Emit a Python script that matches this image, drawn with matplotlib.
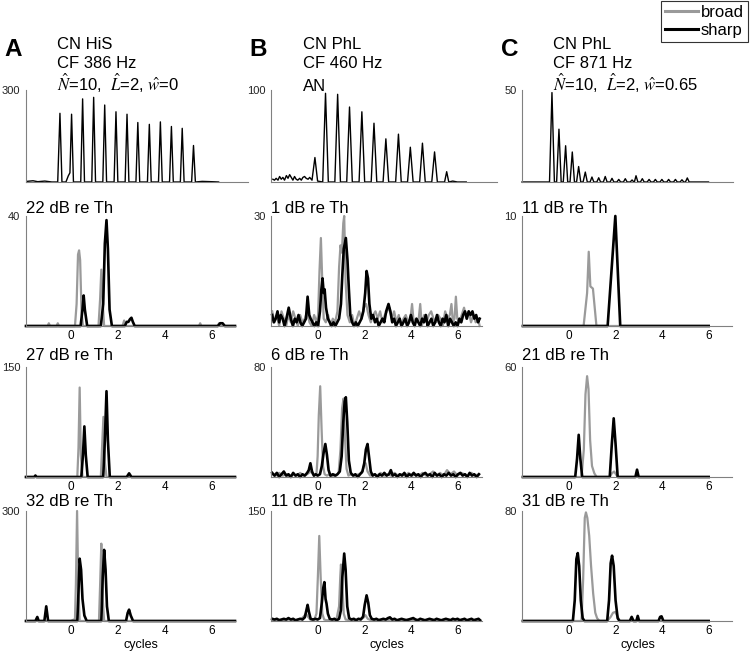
import numpy as np
import matplotlib
matplotlib.use('Agg')
import matplotlib.pyplot as plt
from matplotlib.lines import Line2D

plt.rcParams['font.family'] = ['Liberation Sans', 'DejaVu Sans']
plt.rcParams['mathtext.fontset'] = 'stix'

# ---------------- data (x in cycles, y = count) ----------------
# Top row: AN / unit responses (single black trace)
A1_sharp = [(-1.87, 2), (-1.6, 4), (-1.4, 1), (-1.1, 3), (-0.8, 0), (-0.55, 0), (-0.455, 224), (-0.37, 0),
            (-0.2, 0), (-0.1, 20), (-0.03, 30), (0.04, 221), (0.12, 0), (0.43, 0), (0.51, 271), (0.59, 0),
            (0.90, 0), (0.98, 276), (1.06, 0), (1.37, 0), (1.45, 251), (1.53, 0), (1.85, 0), (1.93, 229),
            (2.01, 0), (2.32, 0), (2.40, 221), (2.48, 0), (2.78, 0), (2.86, 194), (2.94, 0), (3.27, 0),
            (3.35, 188), (3.43, 0), (3.74, 0), (3.82, 196), (3.90, 0), (4.21, 0), (4.29, 181), (4.37, 0),
            (4.67, 0), (4.75, 175), (4.83, 0), (5.15, 0), (5.23, 119), (5.31, 0), (5.6, 2), (6.0, 1), (6.3, 0)]

B1_sharp = [(-1.92, 3), (-1.85, 2), (-1.78, 4), (-1.70, 2), (-1.63, 6), (-1.56, 3), (-1.49, 5), (-1.42, 2),
            (-1.34, 7), (-1.27, 4), (-1.20, 8), (-1.13, 5), (-1.06, 2), (-0.99, 6), (-0.92, 3), (-0.85, 2),
            (-0.77, 4), (-0.70, 2), (-0.63, 5), (-0.56, 6), (-0.49, 4), (-0.41, 3), (-0.34, 5), (-0.24, 2),
            (-0.115, 26.6), (0.0, 1), (0.22, 0), (0.34, 96.4), (0.46, 0), (0.74, 0), (0.86, 95.3), (0.98, 0),
            (1.25, 0), (1.37, 81.5), (1.49, 0), (1.78, 0), (1.90, 76.3), (2.02, 0), (2.30, 0), (2.42, 63.9),
            (2.54, 0), (2.81, 0), (2.93, 46.9), (3.05, 0), (3.35, 0), (3.47, 52.0), (3.59, 0), (3.86, 0),
            (3.98, 37.8), (4.10, 0), (4.38, 0), (4.50, 42.2), (4.62, 0), (4.90, 0), (5.02, 32.7), (5.14, 0),
            (5.45, 0), (5.54, 11.2), (5.63, 0), (5.8, 1), (6.0, 0), (6.38, 0)]

C1_sharp = [(-2.0, 0), (-0.82, 0), (-0.715, 48.6), (-0.61, 0), (-0.515, 0), (-0.415, 28.7), (-0.32, 0),
            (-0.23, 0), (-0.129, 19.7), (-0.04, 0), (0.06, 0), (0.157, 16.3), (0.25, 0), (0.34, 0),
            (0.429, 8.4), (0.52, 0), (0.62, 0), (0.715, 5.4), (0.80, 0), (0.92, 0), (1.0, 2.7), (1.08, 0),
            (1.21, 0), (1.29, 2.3), (1.37, 0), (1.49, 0), (1.57, 3.0), (1.65, 0), (1.78, 0), (1.86, 2.0),
            (1.94, 0), (2.07, 0), (2.15, 1.4), (2.23, 0), (2.35, 0), (2.43, 1.8), (2.51, 0), (2.64, 0),
            (2.72, 1.1), (2.80, 0), (2.82, 0), (2.89, 3.4), (2.97, 0), (3.08, 0), (3.16, 1.8), (3.24, 0),
            (3.37, 0), (3.45, 1.4), (3.53, 0), (3.64, 0), (3.72, 1.4), (3.80, 0), (3.92, 0), (4.0, 1.4),
            (4.08, 0), (4.21, 0), (4.29, 1.4), (4.37, 0), (4.50, 0), (4.58, 1.4), (4.66, 0), (4.78, 0),
            (4.86, 1.2), (4.94, 0), (5.01, 0), (5.09, 2.2), (5.17, 0), (6.0, 0)]

# Column A, model responses
A2_broad = [(-1.9, 0), (-0.98, 0), (-0.93, 1), (-0.88, 0), (-0.6, 0), (-0.55, 1), (-0.5, 0), (0.18, 0),
            (0.25, 8), (0.31, 26), (0.355, 27.5), (0.40, 24), (0.46, 5), (0.52, 0), (1.18, 0), (1.25, 10),
            (1.30, 20.5), (1.36, 8), (1.42, 0), (2.20, 0), (2.27, 2), (2.33, 0), (5.45, 0), (5.5, 1),
            (5.55, 0), (6.25, 0), (6.3, 1), (6.35, 0), (6.98, 0)]
A2_sharp = [(-1.9, 0), (0.42, 0), (0.50, 6), (0.55, 11.1), (0.60, 6), (0.70, 0), (1.28, 0), (1.38, 8),
            (1.45, 30), (1.52, 38.5), (1.58, 28), (1.65, 6), (1.75, 0), (2.30, 0), (2.38, 1.5), (2.45, 1.5),
            (2.52, 2.5), (2.58, 3), (2.64, 1.5), (2.72, 0), (6.25, 0), (6.35, 1), (6.45, 1), (6.55, 0),
            (6.98, 0)]

A3_broad = [(-1.9, 0), (0.28, 0), (0.33, 40), (0.38, 122), (0.43, 30), (0.50, 0), (1.28, 0), (1.33, 40),
            (1.39, 82), (1.45, 20), (1.52, 0), (6.98, 0)]
A3_sharp = [(-1.9, 0), (-1.55, 0), (-1.5, 2), (-1.45, 0), (0.45, 0), (0.52, 30), (0.58, 69), (0.64, 30),
            (0.72, 0), (1.38, 0), (1.45, 50), (1.52, 117), (1.58, 50), (1.66, 0), (2.38, 0), (2.48, 5),
            (2.58, 0), (6.98, 0)]

A4_broad = [(-1.9, 0), (0.0, 0), (0.10, 3), (0.18, 5), (0.22, 100), (0.27, 300), (0.32, 100), (0.38, 0),
            (1.20, 0), (1.25, 100), (1.30, 211), (1.36, 60), (1.42, 0), (6.98, 0)]
A4_sharp = [(-1.9, 0), (-1.50, 0), (-1.42, 11), (-1.36, 0), (-1.12, 0), (-1.04, 40), (-0.96, 0), (0.28, 0),
            (0.33, 80), (0.38, 170), (0.44, 140), (0.50, 60), (0.58, 15), (0.68, 0), (1.30, 0), (1.36, 120),
            (1.42, 194), (1.48, 140), (1.54, 40), (1.62, 0), (2.35, 0), (2.42, 22), (2.48, 31), (2.55, 15),
            (2.65, 0), (6.98, 0)]

# Column B, model responses (noisy)
B2_broad = [(-1.95, 4), (-1.85, 1), (-1.75, 3), (-1.65, 0), (-1.55, 4), (-1.45, 2), (-1.35, 0), (-1.25, 3),
            (-1.15, 1), (-1.05, 4), (-0.95, 2), (-0.85, 0), (-0.75, 3), (-0.65, 1), (-0.55, 2), (-0.45, 4),
            (-0.35, 1), (-0.25, 0), (-0.15, 3), (-0.05, 1), (0.02, 3), (0.08, 15), (0.14, 24), (0.20, 12),
            (0.26, 2), (0.35, 1), (0.45, 3), (0.55, 0), (0.65, 2), (0.75, 1), (0.85, 4), (0.92, 16),
            (0.98, 22), (1.04, 20), (1.10, 28), (1.14, 30), (1.20, 12), (1.28, 3), (1.38, 1), (1.48, 3),
            (1.58, 0), (1.68, 2), (1.78, 4), (1.88, 2), (1.98, 5), (2.08, 6), (2.18, 3), (2.28, 1),
            (2.38, 3), (2.48, 4), (2.58, 2), (2.68, 4), (2.78, 1), (2.88, 3), (2.98, 4), (3.08, 5),
            (3.18, 2), (3.28, 4), (3.38, 1), (3.48, 3), (3.58, 0), (3.68, 2), (3.78, 3), (3.88, 1),
            (3.98, 2), (4.05, 6), (4.12, 1), (4.22, 2), (4.32, 1), (4.40, 6), (4.47, 0), (4.57, 3),
            (4.67, 1), (4.77, 3), (4.87, 4), (4.97, 2), (5.07, 1), (5.17, 3), (5.27, 2), (5.37, 0),
            (5.47, 4), (5.57, 2), (5.67, 3), (5.74, 6), (5.80, 1), (5.87, 2), (5.93, 8), (5.99, 2),
            (6.08, 1), (6.18, 3), (6.28, 5), (6.38, 2), (6.48, 4), (6.58, 1), (6.68, 3), (6.78, 1),
            (6.88, 2), (6.95, 0)]
B2_sharp = [(-1.95, 3), (-1.88, 1), (-1.80, 2), (-1.72, 4), (-1.65, 1), (-1.58, 3), (-1.50, 2), (-1.42, 0),
            (-1.34, 2), (-1.24, 5), (-1.15, 2), (-1.06, 0), (-0.98, 2), (-0.90, 1), (-0.82, 3), (-0.74, 1),
            (-0.66, 0), (-0.58, 1), (-0.50, 2), (-0.43, 8), (-0.36, 3), (-0.30, 2), (-0.22, 1), (-0.14, 0),
            (-0.06, 1), (0.02, 0), (0.10, 4), (0.16, 10), (0.21, 13), (0.26, 9), (0.30, 10), (0.36, 5),
            (0.44, 2), (0.52, 1), (0.60, 0), (0.68, 1), (0.76, 0), (0.84, 1), (0.92, 2), (1.00, 6),
            (1.06, 14), (1.12, 21), (1.21, 24), (1.28, 18), (1.34, 10), (1.40, 3), (1.48, 1), (1.56, 0),
            (1.64, 1), (1.72, 0), (1.80, 1), (1.88, 2), (1.96, 4), (2.04, 9), (2.10, 15), (2.16, 13),
            (2.22, 6), (2.30, 2), (2.38, 3), (2.46, 1), (2.54, 2), (2.62, 0), (2.70, 1), (2.78, 2),
            (2.86, 1), (2.94, 4), (3.04, 6), (3.12, 4), (3.20, 1), (3.28, 2), (3.36, 0), (3.44, 1),
            (3.52, 2), (3.60, 0), (3.68, 1), (3.76, 2), (3.84, 0), (3.92, 1), (4.00, 3), (4.08, 1),
            (4.16, 0), (4.24, 2), (4.32, 1), (4.40, 0), (4.48, 2), (4.56, 1), (4.64, 3), (4.72, 0),
            (4.80, 1), (4.88, 2), (4.96, 0), (5.04, 1), (5.12, 3), (5.20, 1), (5.28, 0), (5.36, 2),
            (5.44, 1), (5.52, 3), (5.60, 0), (5.68, 2), (5.76, 1), (5.84, 0), (5.92, 1), (6.00, 0),
            (6.08, 2), (6.16, 1), (6.24, 3), (6.32, 4), (6.40, 2), (6.48, 4), (6.56, 3), (6.64, 4),
            (6.72, 2), (6.80, 3), (6.88, 1), (6.95, 2)]

B3_broad = [(-1.95, 2), (-1.8, 1), (-1.65, 3), (-1.5, 1), (-1.35, 2), (-1.2, 0), (-1.05, 2), (-0.9, 1),
            (-0.75, 3), (-0.6, 1), (-0.45, 2), (-0.3, 4), (-0.15, 1), (-0.05, 2), (0.0, 15), (0.05, 45),
            (0.11, 66), (0.17, 35), (0.23, 8), (0.30, 2), (0.4, 1), (0.5, 2), (0.6, 0), (0.7, 2), (0.8, 1),
            (0.9, 3), (0.98, 20), (1.05, 50), (1.11, 57), (1.17, 30), (1.24, 6), (1.32, 1), (1.45, 2),
            (1.6, 1), (1.75, 2), (1.9, 3), (2.0, 9), (2.06, 10), (2.14, 4), (2.25, 1), (2.4, 2), (2.55, 1),
            (2.7, 3), (2.85, 1), (3.0, 2), (3.15, 1), (3.3, 3), (3.45, 1), (3.6, 2), (3.75, 1), (3.9, 3),
            (4.05, 1), (4.2, 2), (4.35, 1), (4.5, 3), (4.65, 1), (4.8, 2), (4.95, 4), (5.1, 1), (5.25, 3),
            (5.4, 1), (5.55, 5), (5.7, 2), (5.85, 4), (6.0, 1), (6.15, 3), (6.3, 2), (6.45, 1), (6.6, 3),
            (6.75, 1), (6.9, 2)]
B3_sharp = [(-1.95, 3), (-1.85, 1), (-1.75, 3), (-1.65, 0), (-1.55, 2), (-1.45, 4), (-1.35, 1), (-1.25, 2),
            (-1.15, 0), (-1.05, 3), (-0.95, 1), (-0.85, 2), (-0.75, 0), (-0.65, 2), (-0.55, 1), (-0.45, 3),
            (-0.38, 5), (-0.31, 10), (-0.24, 4), (-0.16, 1), (-0.08, 2), (0.0, 1), (0.1, 2), (0.18, 8),
            (0.26, 18), (0.33, 24), (0.40, 16), (0.47, 5), (0.55, 1), (0.65, 2), (0.75, 1), (0.85, 2),
            (0.95, 4), (1.03, 15), (1.10, 40), (1.16, 55), (1.21, 58), (1.27, 40), (1.34, 12), (1.42, 3),
            (1.52, 1), (1.62, 2), (1.72, 0), (1.82, 2), (1.92, 4), (2.0, 10), (2.07, 20), (2.14, 24),
            (2.21, 14), (2.28, 4), (2.36, 1), (2.46, 2), (2.56, 0), (2.66, 2), (2.76, 1), (2.86, 3),
            (2.96, 1), (3.06, 2), (3.14, 5), (3.22, 1), (3.32, 2), (3.42, 0), (3.52, 2), (3.62, 1),
            (3.72, 3), (3.82, 0), (3.92, 2), (4.02, 1), (4.12, 3), (4.22, 1), (4.32, 2), (4.42, 0),
            (4.52, 2), (4.62, 3), (4.72, 1), (4.82, 2), (4.92, 0), (5.02, 3), (5.12, 1), (5.22, 2),
            (5.32, 0), (5.42, 2), (5.52, 1), (5.62, 3), (5.72, 1), (5.82, 2), (5.92, 0), (6.02, 2),
            (6.12, 3), (6.22, 1), (6.32, 2), (6.42, 0), (6.52, 3), (6.62, 1), (6.72, 2), (6.82, 0),
            (6.92, 2)]

B4_broad = [(-1.95, 1), (-1.7, 2), (-1.45, 1), (-1.2, 2), (-0.95, 1), (-0.7, 3), (-0.6, 6), (-0.5, 10),
            (-0.42, 6), (-0.32, 2), (-0.15, 1), (-0.05, 10), (0.01, 60), (0.07, 116), (0.13, 60), (0.2, 10),
            (0.28, 2), (0.4, 1), (0.6, 2), (0.8, 1), (0.92, 20), (0.97, 60), (1.0, 77), (1.06, 50),
            (1.12, 10), (1.2, 2), (1.4, 1), (1.7, 2), (1.95, 4), (2.05, 8), (2.15, 3), (2.3, 1), (2.6, 2),
            (2.9, 1), (3.2, 2), (3.5, 1), (3.8, 2), (4.1, 1), (4.4, 2), (4.7, 1), (5.0, 2), (5.3, 1),
            (5.6, 2), (5.9, 1), (6.2, 2), (6.5, 1), (6.8, 2), (6.95, 1)]
B4_sharp = [(-1.95, 3), (-1.85, 2), (-1.75, 3), (-1.65, 1), (-1.55, 2), (-1.45, 3), (-1.35, 2), (-1.25, 4),
            (-1.15, 2), (-1.05, 3), (-0.95, 1), (-0.85, 2), (-0.75, 3), (-0.65, 2), (-0.55, 5), (-0.48, 15),
            (-0.43, 22), (-0.37, 12), (-0.30, 3), (-0.2, 2), (-0.1, 3), (0.0, 2), (0.1, 4), (0.18, 25),
            (0.24, 45), (0.29, 53), (0.34, 30), (0.38, 24), (0.44, 10), (0.52, 3), (0.62, 2), (0.72, 3),
            (0.82, 1), (0.92, 3), (1.0, 15), (1.06, 60), (1.14, 92), (1.20, 70), (1.27, 20), (1.35, 4),
            (1.45, 2), (1.55, 3), (1.65, 1), (1.75, 3), (1.85, 2), (1.95, 6), (2.02, 22), (2.10, 35),
            (2.17, 25), (2.24, 8), (2.32, 3), (2.42, 2), (2.52, 3), (2.62, 1), (2.72, 2), (2.82, 3),
            (2.92, 2), (3.02, 4), (3.1, 5), (3.2, 2), (3.3, 3), (3.4, 1), (3.5, 2), (3.6, 3), (3.7, 2),
            (3.8, 1), (3.9, 2), (4.0, 3), (4.1, 4), (4.2, 2), (4.3, 1), (4.4, 3), (4.5, 2), (4.6, 1),
            (4.7, 2), (4.8, 3), (4.9, 2), (5.0, 1), (5.1, 3), (5.2, 2), (5.3, 1), (5.4, 2), (5.5, 3),
            (5.6, 2), (5.7, 1), (5.8, 3), (5.9, 2), (6.0, 3), (6.1, 1), (6.2, 2), (6.3, 3), (6.4, 1),
            (6.5, 2), (6.6, 3), (6.7, 1), (6.8, 2), (6.9, 3), (6.97, 1)]

# Column C, model responses
C2_broad = [(-1.96, 0), (0.64, 0), (0.79, 3), (0.86, 6.75), (0.93, 3.6), (1.04, 3.4), (1.19, 0), (6.0, 0)]
C2_sharp = [(-1.96, 0), (1.67, 0), (2.0, 10), (2.21, 0), (6.0, 0)]

C3_broad = [(-1.96, 0), (0.55, 0), (0.65, 15), (0.72, 45), (0.79, 55), (0.85, 48), (0.92, 20), (1.0, 6),
            (1.1, 2), (1.2, 0), (1.75, 0), (1.85, 2), (1.95, 3), (2.05, 1), (2.15, 0), (6.0, 0)]
C3_sharp = [(-1.96, 0), (0.28, 0), (0.36, 10), (0.43, 23), (0.50, 10), (0.58, 0), (1.76, 0), (1.85, 18),
            (1.93, 32), (2.01, 18), (2.10, 0), (2.86, 0), (2.93, 4), (3.0, 0), (6.0, 0)]

C4_broad = [(-1.96, 0), (0.55, 0), (0.62, 30), (0.69, 75), (0.74, 79), (0.80, 75), (0.88, 62), (0.96, 40),
            (1.05, 20), (1.14, 6), (1.22, 2), (1.32, 0), (1.65, 0), (1.8, 3), (1.9, 6), (2.0, 6.6),
            (2.1, 3), (2.2, 0), (6.0, 0)]
C4_sharp = [(-1.96, 0), (0.18, 0), (0.26, 15), (0.33, 45), (0.39, 49.4), (0.45, 40), (0.52, 15), (0.60, 2),
            (0.68, 0), (1.65, 0), (1.73, 15), (1.80, 42), (1.86, 47.5), (1.93, 40), (2.01, 15), (2.10, 2),
            (2.18, 0), (2.62, 0), (2.70, 3), (2.78, 0), (2.90, 0), (2.96, 3.7), (3.02, 0), (3.85, 0),
            (3.92, 3), (3.98, 3.4), (4.06, 0), (6.0, 0)]

# labels / limits
panel_letters = ['A', 'B', 'C']
headers = [
    ['CN HiS', 'CF 386 Hz', r'$\hat{N}$=10,  $\hat{L}$=2, $\hat{w}$=0'],
    ['CN PhL', 'CF 460 Hz', 'AN'],
    ['CN PhL', 'CF 871 Hz', r'$\hat{N}$=10,  $\hat{L}$=2, $\hat{w}$=0.65'],
]
level_titles = [
    ['22 dB re Th', '27 dB re Th', '32 dB re Th'],
    ['1 dB re Th', '6 dB re Th', '11 dB re Th'],
    ['11 dB re Th', '21 dB re Th', '31 dB re Th'],
]
top_ymax = [300, 100, 50]
level_ymax = [[40, 150, 300], [30, 80, 150], [10, 60, 80]]
x_ticks = [0, 2, 4, 6]

top_data = [A1_sharp, B1_sharp, C1_sharp]
broad_data = [[A2_broad, A3_broad, A4_broad], [B2_broad, B3_broad, B4_broad], [C2_broad, C3_broad, C4_broad]]
sharp_data = [[A2_sharp, A3_sharp, A4_sharp], [B2_sharp, B3_sharp, B4_sharp], [C2_sharp, C3_sharp, C4_sharp]]

# ---------------- layout ----------------
W, H = 750, 652
fig = plt.figure(figsize=(7.5, 6.52), dpi=100)
GRAY = '#9a9a9a'
SPINE = '#808080'

col_left = [26, 271, 522]
col_width = [209, 211, 210]
col_xlim = [(-1.9, 6.98), (-2.0, 7.05), (-2.0, 7.0)]
top_width = [222, 226, 211]
top_xlim = [(-1.9, 7.55), (-2.0, 7.7), (-2.0, 7.05)]
top_row = (90, 182)
rows = [(216, 326), (367, 477), (511, 621)]
title_base = [213, 360, 506]
header_x = [57, 303, 553]
header_base = [49, 68.5, 91]
letter_x = [4, 249, 501]


def add_ax(left, width, top, bottom):
    return fig.add_axes([left / W, 1 - bottom / H, width / W, (bottom - top) / H])


def style(ax, ymax, xlim, xt):
    ax.set_xlim(*xlim)
    ax.set_ylim(0, ymax)
    for s in ['top', 'right']:
        ax.spines[s].set_visible(False)
    for s in ['left', 'bottom']:
        ax.spines[s].set_color(SPINE)
        ax.spines[s].set_linewidth(0.8)
    ax.set_yticks([ymax])
    ax.set_yticklabels([str(ymax)])
    ax.tick_params(axis='y', length=0, pad=4, labelsize=8, labelcolor='#222222')
    if xt:
        ax.set_xticks(x_ticks)
        ax.tick_params(axis='x', length=0, pad=3, labelsize=8.5)
    else:
        ax.set_xticks([])
    ax.patch.set_visible(False)


for c in range(3):
    # top row
    ax = add_ax(col_left[c], top_width[c], *top_row)
    style(ax, top_ymax[c], top_xlim[c], False)
    x, y = np.array(top_data[c]).T
    ax.plot(x, y, color='black', lw=1.0, clip_on=False)
    fig.text(letter_x[c] / W, 1 - 56 / H, panel_letters[c], fontsize=17.5, fontweight='bold', va='baseline')
    for line, yb in zip(headers[c], header_base):
        fig.text(header_x[c] / W, 1 - yb / H, line, fontsize=12, va='baseline')
    # level rows
    for r in range(3):
        ax = add_ax(col_left[c], col_width[c], *rows[r])
        style(ax, level_ymax[c][r], col_xlim[c], True)
        xb, yb = np.array(broad_data[c][r]).T
        xs, ys = np.array(sharp_data[c][r]).T
        ax.plot(xb, yb, color=GRAY, lw=1.6, clip_on=False)
        ax.plot(xs, ys, color='black', lw=1.9, clip_on=False)
        fig.text(col_left[c] / W, 1 - title_base[r] / H, level_titles[c][r], fontsize=12, va='baseline')
        if r == 2:
            ax.set_xlabel('cycles', fontsize=9)
            ax.xaxis.set_label_coords(0.55, -0.165)

handles = [Line2D([], [], color=GRAY, lw=2.2), Line2D([], [], color='black', lw=2.2)]
leg = fig.legend(handles, ['broad', 'sharp'], loc='upper right', bbox_to_anchor=(748 / W, 1 - 1 / H),
                 fontsize=12, frameon=True, fancybox=False, edgecolor='#333333', framealpha=1,
                 handlelength=2.0, handletextpad=0.15, labelspacing=0.15, borderpad=0.25, borderaxespad=0)
leg.get_frame().set_linewidth(0.8)

fig.savefig('out.png', dpi=100)
